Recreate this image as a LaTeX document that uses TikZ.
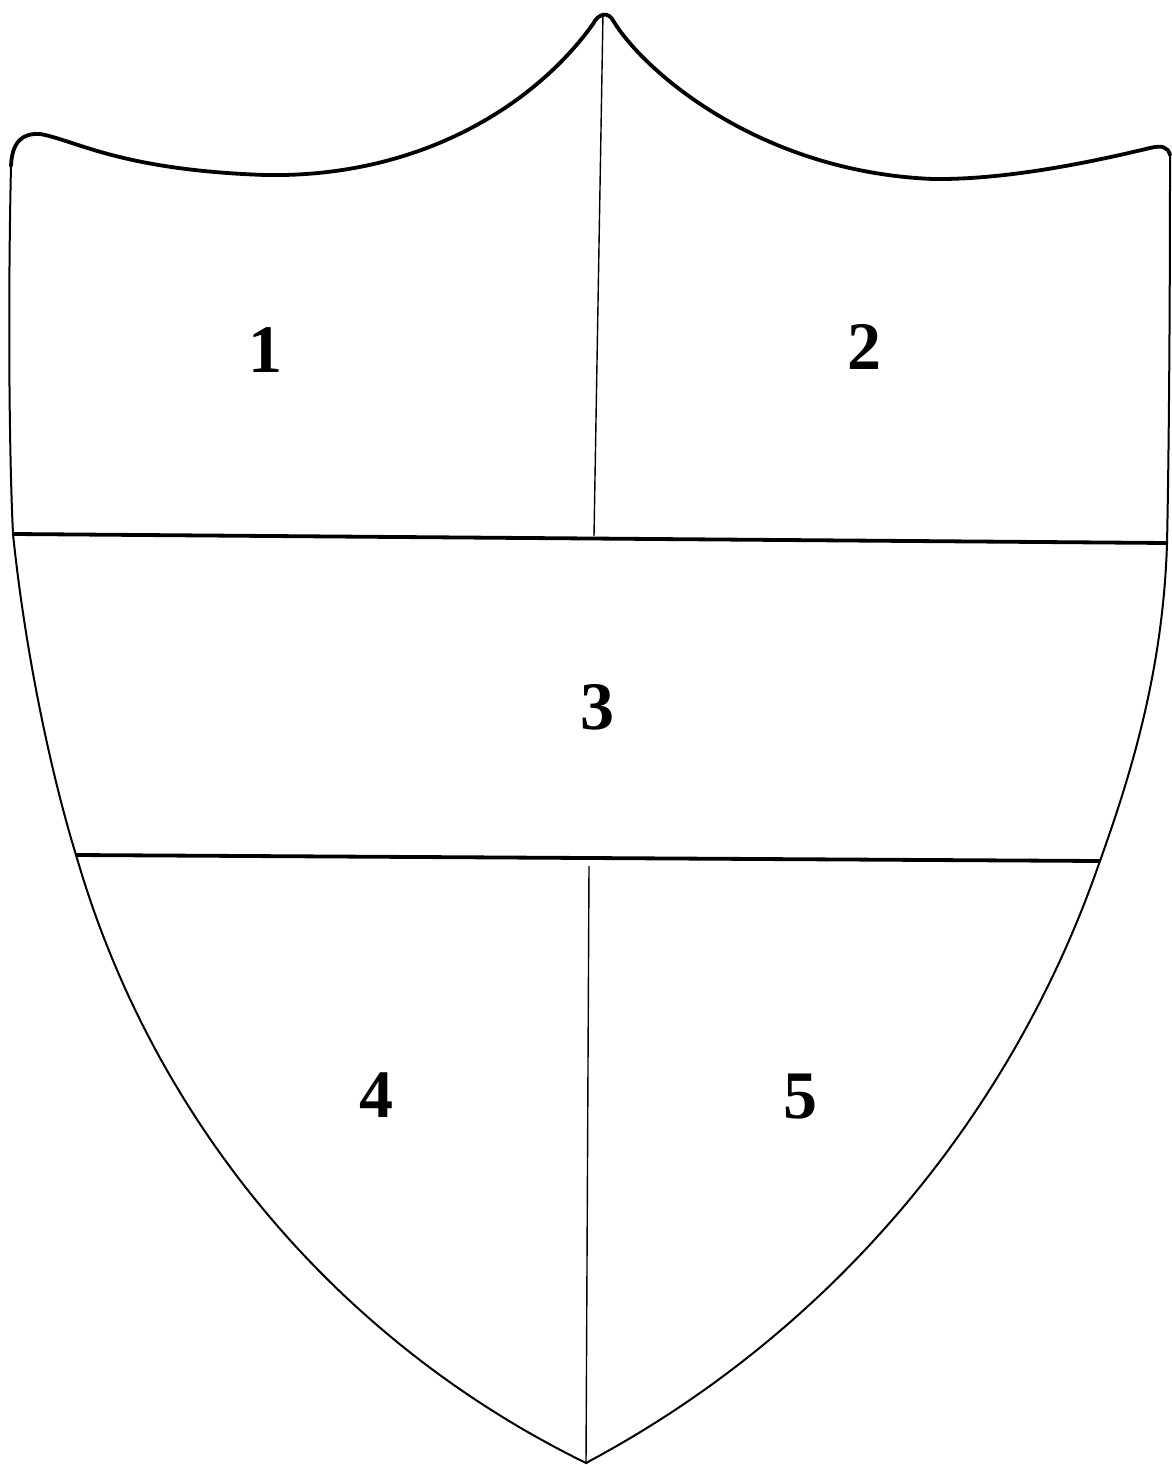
\documentclass[tikz,border=0pt]{standalone}
\usepackage{fontspec}
\setmainfont{Liberation Serif}
\begin{document}
\begin{tikzpicture}[x=0.5pt,y=-0.5pt,
  thick outline/.style={line width=1.9pt,line join=round,line cap=round},
  side outline/.style={line width=1pt,line join=round,line cap=round},
  band line/.style={line width=1.9pt},
  mid line/.style={line width=0.7pt},
  numlabel/.style={font=\fontsize{34}{34}\selectfont\bfseries,inner sep=0pt}]
\useasboundingbox (0,0) rectangle (1171,1465);
% named points
\coordinate (peak) at (603,13);
\coordinate (tip) at (586,1463);
\coordinate (lA) at (13,534);
\coordinate (rA) at (1167,543);
\coordinate (lB) at (76,855);
\coordinate (rB) at (1100,861);
\coordinate (vtB) at (594,536);
\coordinate (vbT) at (589,866);
\coordinate (lTop) at (11,166);
\coordinate (rTop) at (1170,155);
% top edge with corners
\draw[thick outline] (lTop)
  .. controls (12,142) and (22,133) .. (40,134)
  .. controls (75,140) and (120,170) .. (265,175)
  .. controls (420,178) and (535,105) .. (593,24)
  .. controls (598,14) and (608,10) .. (614,22)
  .. controls (645,72) and (760,172) .. (933,179)
  .. controls (1010,180) and (1100,160) .. (1150,148)
  .. controls (1162,145) and (1168,147) .. (rTop);
% left side
\draw[side outline] (lTop) .. controls (8,300) and (9,450) .. (lA)
  .. controls (25,650) and (50,770) .. (lB);
\draw[side outline] plot[domain=164.0:116.0,samples=60,variable=\t]
  ({1014.6+976.5*cos(\t)},{585.6+976.5*sin(\t)});
% right side
\draw[side outline] (rTop) .. controls (1170,300) and (1169,450) .. (rA)
  .. controls (1163,680) and (1125,790) .. (rB);
\draw[side outline] plot[domain=18.98:62.0,samples=60,variable=\t]
  ({79.1+1079.6*cos(\t)},{509.8+1079.6*sin(\t)});
% bands
\draw[band line] (lA) -- (rA);
\draw[band line] (lB) -- (rB);
% verticals
\draw[mid line] (peak) -- (vtB);
\draw[mid line] (vbT) -- (tip);
% labels
\node[numlabel] (n1) at (265,350) {1};
\node[numlabel] (n2) at (864,347) {2};
\node[numlabel] (n3) at (597,707) {3};
\node[numlabel] (n4) at (376,1095) {4};
\node[numlabel] (n5) at (800,1097) {5};
\end{tikzpicture}
\end{document}
